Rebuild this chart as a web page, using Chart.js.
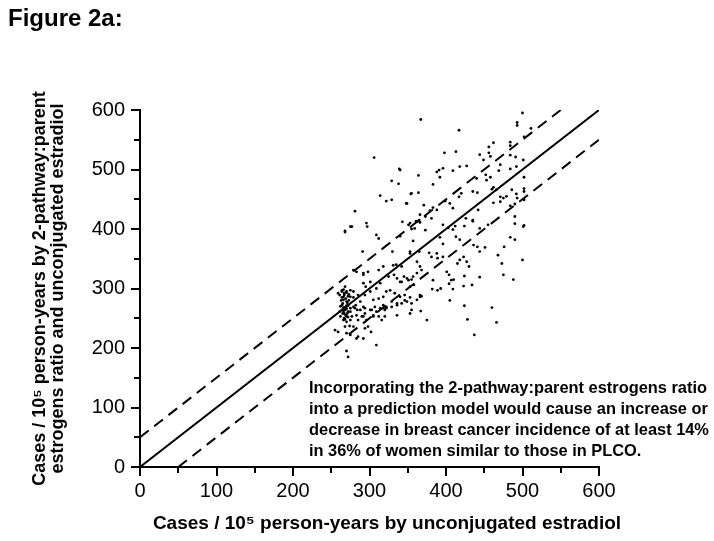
<!DOCTYPE html>
<html>
<head>
<meta charset="utf-8">
<script src="https://cdn.jsdelivr.net/npm/chart.js@4"></script>
<style>
  html, body { margin: 0; padding: 0; background: #fff; }
  #wrap { width: 714px; height: 541px; }
</style>
</head>
<body>
<div id="wrap"><canvas id="chart" width="714" height="541"></canvas></div>
<script>
// axis ticks (labels every 100, minor marks every 50)
var tickValues = [0, 100, 200, 300, 400, 500, 600];
var minorTickValues = [50, 150, 250, 350, 450, 550];

// reference lines: y = x and y = x +/- 50
var identityLine = [[0, 0], [600, 600]];
var upperBand = [[0, 50], [550, 600]];
var lowerBand = [[50, 0], [600, 550]];

var figureLabel = 'Figure 2a:';
var xTitle = 'Cases / 10\u2075 person-years by unconjugated estradiol';
var yTitle = ['Cases / 10\u2075 person-years by 2-pathway:parent', 'estrogens ratio and unconjugated estradiol'];
var noteLines = [
  'Incorporating the 2-pathway:parent estrogens ratio',
  'into a prediction model would cause an increase or',
  'decrease in breast cancer incidence of at least 14%',
  'in 36% of women similar to those in PLCO.'
];

// [unconjugated estradiol, 2-pathway:parent model]
var womenPoints = [
  [367,584],[500,595],[493,579],[493,574],[417,566],[511,569],[484,546],[484,540],[502,555],
  [398,528],[413,530],[456,538],[462,545],[444,525],[456,528],[458,522],[484,524],[491,521],
  [501,516],[340,499],[388,496],[391,499],[396,502],[392,487],[409,498],[418,505],[427,506],
  [449,516],[471,508],[469,498],[484,501],[492,505],[364,490],[383,475],[440,485],[452,491],
  [453,482],[458,487],[502,487],[355,460],[364,461],[348,443],[371,440],[383,436],[379,431],
  [388,432],[366,424],[373,421],[381,418],[399,447],[405,443],[409,435],[417,454],[420,460],
  [435,463],[441,461],[460,467],[462,470],[466,466],[471,454],[475,452],[479,455],[486,466],
  [492,459],[493,452],[502,468],[502,463],[484,439],[490,442],[502,449],[462,444],[471,446],
  [426,418],[435,415],[442,432],[343,412],[353,410],[396,407],[403,402],[412,405],[490,421],
  [501,404],
  [359,401],[366,411],[340,388],[357,380],[353,359],[373,398],[392,386],[396,375],[409,399],
  [413,387],[418,382],[424,405],[444,401],[455,407],[435,413],[490,409],[502,406],[484,386],
  [490,382],[436,373],[441,370],[444,362],[451,369],[476,370],[468,356],[473,342],[500,348],
  [475,323],[488,315],[378,360],[381,353],[388,359],[389,351],[396,353],[418,348],[423,353],
  [427,345],[415,342],[401,328],[404,323],[424,321],[430,337],[444,319],[434,306],[423,304],
  [383,314],[407,314],[410,315],[382,299],[389,297],[393,300],[404,308],[409,299],[405,280],
  [366,337],[368,331],[342,311],[349,317],[355,315],[346,289],[353,285],[366,289],[368,287],
  [346,280],[340,286],[355,264],[367,262],[375,247],[424,271],[428,248],[437,222],[460,268],
  [466,243],
  [275,404],[268,395],[296,410],[297,404],[309,390],[312,384],[291,362],[298,328],[292,323],
  [312,331],[318,337],[330,362],[335,340],[325,320],[332,323],
  [264,295],[267,289],[270,293],[275,297],[279,295],[266,281],[270,278],[275,286],[272,271],
  [268,268],[264,264],[267,258],[270,253],[275,261],[279,269],[282,272],[284,264],[275,247],
  [270,244],[277,253],[266,247],[268,236],[274,237],[279,236],[285,247],[290,253],[294,258],
  [296,247],[292,269],[288,278],[294,289],[301,295],[309,300],[305,281],[312,283],[318,286],
  [322,295],[327,297],[333,292],[336,275],[329,278],[322,269],[318,267],[320,264],[309,261],
  [303,264],[305,253],[312,253],[316,247],[298,236],[294,233],[283,216],[285,219],[292,216],
  [309,205],[302,227],[275,222],[270,225],[255,230],[259,227],[270,195],[272,185],
  [268,397],[277,404],[351,407],[355,400],[362,412],[353,362],[283,328],[292,326],[279,331],
  [331,339],[342,337],[362,345],[365,362],[336,317],[345,320],[340,311],[351,314],[357,320],
  [362,326],[353,303],[358,306],[301,311],[314,309],[292,309],[295,303],[268,303],[264,297],
  [270,295],[261,289],[266,286],[272,287],[279,285],[285,289],[264,272],[266,268],[268,264],
  [270,271],[261,261],[265,258],[269,255],[272,261],[275,267],[267,250],[272,252],
  [281,267],[288,264],[294,267],[301,264],[307,269],[314,267],[318,272],[322,267],[329,269],
  [336,272],[342,275],[349,278],[355,275],[362,281],[366,286],[283,255],[292,253],[305,255],
  [320,253],[336,255],[353,258],
  [306,520],[339,501],[329,481],[338,476],[314,456],[322,447],[329,449],[281,430],[354,459],
  [349,443],[361,413],[365,415],
  [263,280],[265,275],[267,292],[269,283],[271,276],[273,290],[262,270],[266,262],[268,248],
  [271,258],[264,285],[270,266],[273,280],[266,298],[262,253],[259,292]
];

function toXY(pairs) {
  return pairs.map(function (p) { return { x: p[0], y: p[1] }; });
}

var FONT = '"Liberation Sans", Arial, Helvetica, sans-serif';

var decorations = {
  id: 'decorations',
  afterDraw: function (chart) {
    var ctx = chart.ctx;
    var xs = chart.scales.x;
    var ys = chart.scales.y;
    ctx.save();
    ctx.strokeStyle = '#000';
    ctx.lineWidth = 2;
    // outward tick marks, long for labelled values, short in between
    function mark(v, len) {
      var px = Math.round(xs.getPixelForValue(v));
      ctx.beginPath();
      ctx.moveTo(px, xs.top);
      ctx.lineTo(px, xs.top + len);
      ctx.stroke();
      var py = Math.round(ys.getPixelForValue(v));
      ctx.beginPath();
      ctx.moveTo(ys.right, py);
      ctx.lineTo(ys.right - len, py);
      ctx.stroke();
    }
    tickValues.forEach(function (v) { mark(v, 9); });
    minorTickValues.forEach(function (v) { mark(v, 6); });

    ctx.fillStyle = '#000';
    ctx.textBaseline = 'alphabetic';
    ctx.textAlign = 'left';
    ctx.font = 'bold 24px ' + FONT;
    ctx.fillText(figureLabel, 8, 26);
    ctx.font = 'bold 16.4px ' + FONT;
    noteLines.forEach(function (line, i) {
      ctx.fillText(line, 309, 393 + i * 21);
    });
    // x axis title sits a little right of the plot centre in the original
    ctx.textAlign = 'center';
    ctx.textBaseline = 'middle';
    ctx.font = 'bold 19px ' + FONT;
    ctx.fillText(xTitle, 387, 524);
    ctx.restore();
  }
};

new Chart(document.getElementById('chart').getContext('2d'), {
  type: 'scatter',
  data: {
    datasets: [
      {
        data: toXY(womenPoints),
        backgroundColor: '#000',
        borderWidth: 0,
        pointRadius: 1.4,
        pointHoverRadius: 1.4
      },
      {
        type: 'line',
        data: toXY(identityLine),
        borderColor: '#000',
        borderWidth: 2,
        pointRadius: 0,
        fill: false
      },
      {
        type: 'line',
        data: toXY(upperBand),
        borderColor: '#000',
        borderWidth: 2,
        borderDash: [11, 7],
        pointRadius: 0,
        fill: false
      },
      {
        type: 'line',
        data: toXY(lowerBand),
        borderColor: '#000',
        borderWidth: 2,
        borderDash: [11, 7],
        pointRadius: 0,
        fill: false
      }
    ]
  },
  options: {
    responsive: false,
    animation: false,
    devicePixelRatio: 1,
    layout: { padding: { left: 0, right: 115, top: 110, bottom: 0 } },
    plugins: {
      legend: { display: false },
      tooltip: { enabled: false }
    },
    scales: {
      x: {
        type: 'linear',
        min: 0,
        max: 600,
        grid: { display: false, drawTicks: false },
        border: { display: true, color: '#000', width: 2 },
        ticks: {
          stepSize: 100,
          color: '#000',
          padding: 12,
          maxRotation: 0,
          font: { family: FONT, size: 20 }
        },
        afterFit: function (scale) { scale.height = 74; }
      },
      y: {
        type: 'linear',
        min: 0,
        max: 600,
        grid: { display: false, drawTicks: false },
        border: { display: true, color: '#000', width: 2 },
        ticks: {
          stepSize: 100,
          color: '#000',
          padding: 15,
          font: { family: FONT, size: 20 }
        },
        title: {
          display: true,
          text: yTitle,
          color: '#000',
          font: { family: FONT, size: 18, weight: 'bold', lineHeight: 1.0 },
          padding: { top: 31, bottom: 0 }
        },
        afterFit: function (scale) { scale.width = 140; }
      }
    }
  },
  plugins: [decorations]
});
</script>
</body>
</html>
